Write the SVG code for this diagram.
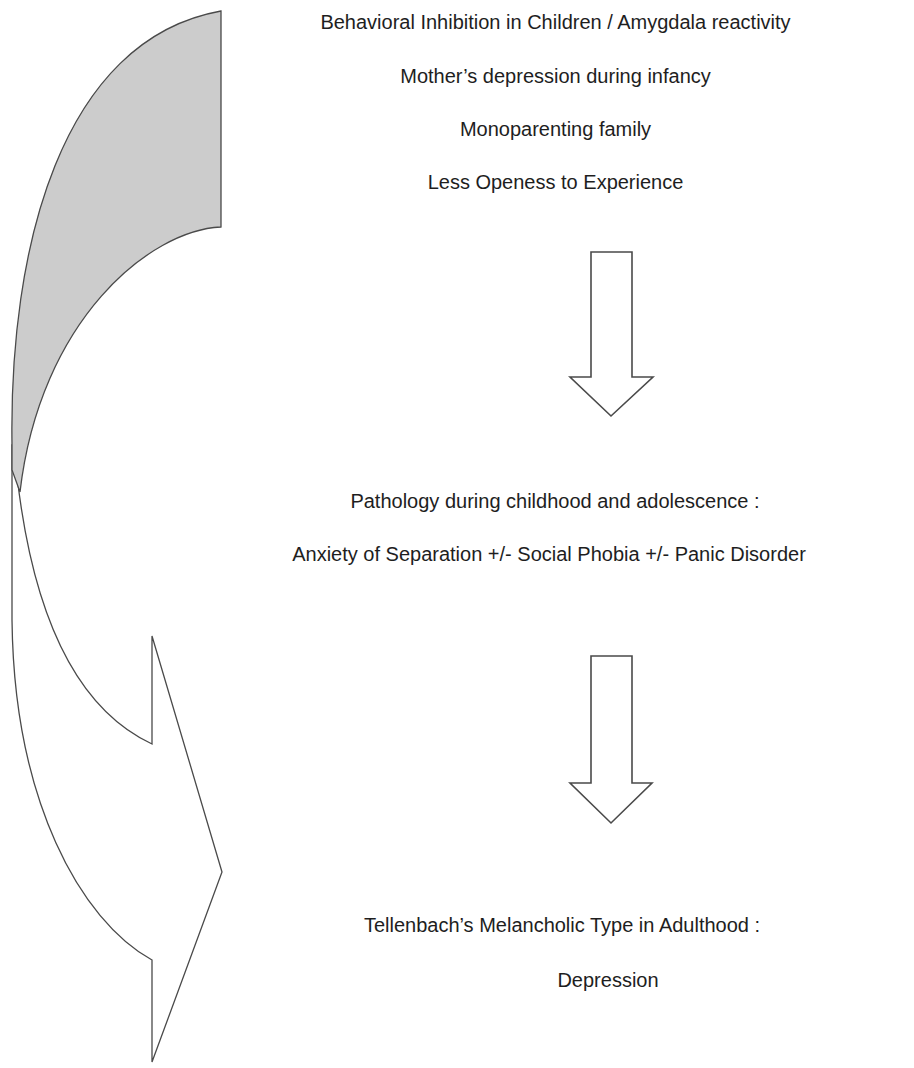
<svg xmlns="http://www.w3.org/2000/svg" width="914" height="1068" viewBox="0 0 914 1068">
<style>
text{font-family:"Liberation Sans",Arial,sans-serif;font-size:20px;fill:#1e1e1e;text-anchor:middle}
.blk{fill:#fff;stroke:#4a4a4a;stroke-width:1.6;stroke-linejoin:miter}
.curve{stroke:#4a4a4a;stroke-width:1.3;stroke-linejoin:miter}
</style>
<rect width="914" height="1068" fill="#fff"/>
<g id="connectors">
<g id="curved-arrow">
<path class="curve" fill="#fff" d="M12,445 L12,620 C14,800 80,920 152,960 L152,1062 L222,872 L152,636 L152,744 C90,715 30,640 14,445 Z"/>
<path class="curve" fill="#cccccc" d="M221,11 L221,227 C150,230 40,320 20,492 L12,470 L12,445 C9,250 60,40 221,11 Z"/>
</g>
<path id="arrow1" class="blk" d="M591,252 L632,252 L632,377 L653,377 L611,416 L570,377 L591,377 Z"/>
<path id="arrow2" class="blk" d="M591,656 L632,656 L632,783 L652,783 L611,823 L570,783 L591,783 Z"/>
</g>
<g id="node-risk-factors">
<text x="555.5" y="29">Behavioral Inhibition in Children / Amygdala reactivity</text>
<text x="555.5" y="83">Mother’s depression during infancy</text>
<text x="555.5" y="136">Monoparenting family</text>
<text x="555.5" y="189">Less Openess to Experience</text>
</g>
<g id="node-childhood">
<text x="555" y="508">Pathology during childhood and adolescence :</text>
<text x="549" y="561">Anxiety of Separation +/- Social Phobia +/- Panic Disorder</text>
</g>
<g id="node-adulthood">
<text x="562" y="932">Tellenbach’s Melancholic Type in Adulthood :</text>
<text x="608" y="987">Depression</text>
</g>
</svg>
